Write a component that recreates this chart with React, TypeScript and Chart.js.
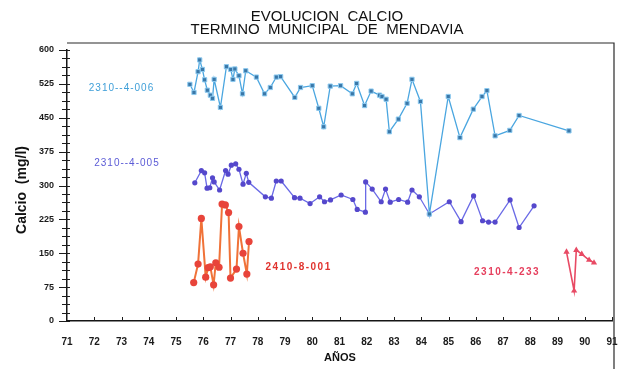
import React, { useEffect, useRef } from 'react';
import { Chart, registerables } from 'chart.js';

Chart.register(...registerables);

// Axis ranges and tick spacing
const X_MIN = 71;
const X_MAX = 91;
const Y_MIN = 0;
const Y_MAX = 600;
const Y_STEP = 75;
const Y_MINOR = 18.75;

const titleLines = ['EVOLUCION  CALCIO', 'TERMINO  MUNICIPAL  DE  MENDAVIA'];
const xAxisTitle = 'AÑOS';
const yAxisTitle = 'Calcio  (mg/l)';

// Pozo 2310-4-006
const years006 = [
  75.51, 75.66, 75.81, 75.87, 75.97, 76.05, 76.15, 76.26, 76.34, 76.4,
  76.63, 76.85, 77.01, 77.09, 77.16, 77.31, 77.44, 77.56, 77.95, 78.25,
  78.46, 78.68, 78.84, 79.36, 79.57, 80.0, 80.24, 80.42, 80.66, 81.04,
  81.47, 81.63, 81.92, 82.16, 82.47, 82.56, 82.71, 82.83, 83.16, 83.48,
  83.66, 83.97, 84.3, 84.99, 85.42, 85.91, 86.23, 86.41, 86.71, 87.25,
  87.59, 89.42,
];
const calcio006 = [
  524, 506, 552, 578, 557, 534, 511, 500, 493, 535,
  473, 563, 557, 535, 558, 543, 503, 554, 540, 503,
  517, 540, 541, 495, 517, 521, 471, 430, 520, 521,
  503, 526, 477, 509, 500, 497, 491, 419, 447, 482,
  535, 486, 237, 497, 406, 469, 497, 510, 410, 422,
  455, 421,
];

// Pozo 2310-4-005
const years005 = [
  75.69, 75.93, 76.05, 76.14, 76.24, 76.34, 76.4, 76.6, 76.82, 76.91,
  77.03, 77.19, 77.31, 77.46, 77.58, 77.67, 78.28, 78.5, 78.68, 78.86,
  79.35, 79.55, 79.92, 80.27, 80.45, 80.67, 81.06, 81.49, 81.65, 81.95,
  81.96, 82.2, 82.53, 82.69, 82.86, 83.17, 83.5, 83.66, 83.93, 84.3,
  85.03, 85.46, 85.92, 86.25, 86.47, 86.71, 87.26, 87.59, 88.14,
];
const calcio005 = [
  306, 333, 328, 294, 295, 317, 308, 290, 333, 325,
  345, 348, 336, 303, 327, 307, 275, 272, 310, 310,
  273, 272, 260, 275, 264, 268, 279, 269, 247, 241,
  308, 292, 264, 292, 263, 269, 263, 290, 275, 237,
  264, 220, 277, 222, 219, 219, 268, 207, 255,
];

// Pozo 2410-8-001
const years001 = [
  75.65, 75.81, 75.93, 76.09, 76.18, 76.26, 76.38, 76.46, 76.58, 76.69,
  76.81, 76.93, 77.0, 77.22, 77.31, 77.46, 77.6, 77.68,
];
const calcio001 = [
  85, 126, 227, 97, 118, 120, 80, 129, 119, 259,
  257, 240, 95, 115, 209, 150, 104, 176,
];

// Pozo 2310-4-233
const years233 = [89.33, 89.61, 89.69, 89.89, 90.16, 90.34];
const calcio233 = [153, 67, 157, 148, 135, 129];

// Well names written beside each series, anchored in data units
const wellNames = ['2310--4-006', '2310--4-005', '2410-8-001', '2310-4-233'];
const wellNameYears = [73.0, 73.2, 79.5, 87.15];
const wellNameValues = [516, 350, 120, 108];

const toPoints = (xs: number[], ys: number[]) => xs.map((x, i) => ({ x, y: ys[i] }));

const FONT = '"Liberation Sans", Arial, sans-serif';

const decorations = {
  id: 'decorations',
  afterDraw(chart: any) {
    const { ctx, chartArea, scales } = chart;
    const xs = scales.x;
    const ys = scales.y;
    ctx.save();

    // y tick marks (major and minor), crossing the axis
    ctx.strokeStyle = '#1b1b1b';
    ctx.lineWidth = 1;
    for (let v = Y_MIN; v <= Y_MAX + 0.001; v += Y_MINOR) {
      const major = Math.abs(v / Y_STEP - Math.round(v / Y_STEP)) < 1e-6;
      const py = Math.round(ys.getPixelForValue(v)) + 0.5;
      ctx.beginPath();
      ctx.moveTo(chartArea.left - (major ? 8 : 5), py);
      ctx.lineTo(chartArea.left + 3, py);
      ctx.stroke();
    }
    // x tick marks pointing up into the plot
    for (let yr = X_MIN + 1; yr <= X_MAX; yr++) {
      const px = Math.round(xs.getPixelForValue(yr)) + 0.5;
      ctx.beginPath();
      ctx.moveTo(px, chartArea.bottom);
      ctx.lineTo(px, chartArea.bottom - 4);
      ctx.stroke();
    }

    // outer frame on top and right
    ctx.strokeStyle = '#2a2a2a';
    ctx.lineWidth = 1.2;
    ctx.beginPath();
    ctx.moveTo(chartArea.left, chartArea.top - 7);
    ctx.lineTo(chartArea.right + 2, chartArea.top - 7);
    ctx.lineTo(chartArea.right + 2, chart.height);
    ctx.stroke();

    // titles
    ctx.fillStyle = '#111';
    ctx.textAlign = 'center';
    ctx.textBaseline = 'middle';
    ctx.font = `15px ${FONT}`;
    ctx.fillText(titleLines[0], 327, 17);
    ctx.fillText(titleLines[1], 327, 30);

    ctx.font = `bold 11px ${FONT}`;
    ctx.fillText(xAxisTitle, 340, 358);

    ctx.save();
    ctx.translate(22, 190);
    ctx.rotate(-Math.PI / 2);
    ctx.font = `bold 14px ${FONT}`;
    ctx.fillText(yAxisTitle, 0, 0);
    ctx.restore();

    // well names
    const nameColors = ['#3f9fd8', '#5b5bd6', '#e0332e', '#e6405e'];
    const nameFonts = [`10px ${FONT}`, `10px ${FONT}`, `bold 10px ${FONT}`, `bold 10px ${FONT}`];
    wellNames.forEach((name, i) => {
      ctx.font = nameFonts[i];
      ctx.fillStyle = nameColors[i];
      (ctx as any).letterSpacing = i < 2 ? '1px' : '1.5px';
      ctx.fillText(name, xs.getPixelForValue(wellNameYears[i]), ys.getPixelForValue(wellNameValues[i]));
    });
    (ctx as any).letterSpacing = '0px';
    ctx.restore();
  },
};

export default function App() {
  const canvasRef = useRef<HTMLCanvasElement | null>(null);

  useEffect(() => {
    if (!canvasRef.current) return;
    const chart = new Chart(canvasRef.current, {
      type: 'line',
      data: {
        datasets: [
          {
            label: '2310-4-006',
            data: toPoints(years006, calcio006),
            borderColor: '#4aa6e0',
            borderWidth: 1.3,
            pointStyle: 'rect',
            pointRadius: 3,
            pointBackgroundColor: '#3a77a8',
            pointBorderColor: '#8ccaf0',
            pointBorderWidth: 1,
            tension: 0,
          },
          {
            label: '2310-4-005',
            data: toPoints(years005, calcio005),
            borderColor: '#6a6ae6',
            borderWidth: 1.3,
            pointStyle: 'circle',
            pointRadius: 2.6,
            pointBackgroundColor: '#5548cc',
            pointBorderColor: '#5548cc',
            pointBorderWidth: 0,
            tension: 0,
          },
          {
            label: '2410-8-001',
            data: toPoints(years001, calcio001),
            borderColor: '#f07238',
            borderWidth: 2,
            pointStyle: 'circle',
            pointRadius: 3.6,
            pointBackgroundColor: '#e8443a',
            pointBorderColor: '#e8443a',
            pointBorderWidth: 0,
            tension: 0,
          },
          {
            label: '2310-4-233',
            data: toPoints(years233, calcio233),
            borderColor: '#e84a64',
            borderWidth: 1.6,
            pointStyle: 'triangle',
            pointRadius: 3.6,
            pointBackgroundColor: '#e84a64',
            pointBorderColor: '#e84a64',
            pointBorderWidth: 0,
            tension: 0,
          },
        ],
      },
      options: {
        animation: false,
        responsive: false,
        devicePixelRatio: 1,
        layout: { padding: { top: 50, right: 6, left: 0, bottom: 0 } },
        plugins: {
          legend: { display: false },
          title: { display: false },
          tooltip: { enabled: false },
        },
        scales: {
          x: {
            type: 'linear',
            min: X_MIN,
            max: X_MAX,
            afterFit: (scale: any) => {
              scale.height = 48;
              scale.paddingLeft = 0;
              scale.paddingRight = 0;
            },
            grid: { display: false, drawTicks: false },
            border: { display: true, color: '#151515', width: 1.5 },
            ticks: {
              stepSize: 1,
              padding: 15,
              color: '#1a1a1a',
              font: { family: FONT, size: 10, weight: 'bold' },
              maxRotation: 0,
              autoSkip: false,
            },
          },
          y: {
            type: 'linear',
            min: Y_MIN,
            max: Y_MAX,
            afterFit: (scale: any) => {
              scale.width = 67;
            },
            grid: { display: false, drawTicks: false },
            border: { display: true, color: '#151515', width: 1.5 },
            ticks: {
              stepSize: Y_STEP,
              padding: 13,
              color: '#1a1a1a',
              font: { family: FONT, size: 9, weight: 'bold' },
            },
          },
        },
      },
      plugins: [decorations],
    });
    return () => chart.destroy();
  }, []);

  return (
    <div style={{ position: 'fixed', left: 0, top: 0, width: 618, height: 369, background: '#fff' }}>
      <canvas ref={canvasRef} width={618} height={369} />
    </div>
  );
}
